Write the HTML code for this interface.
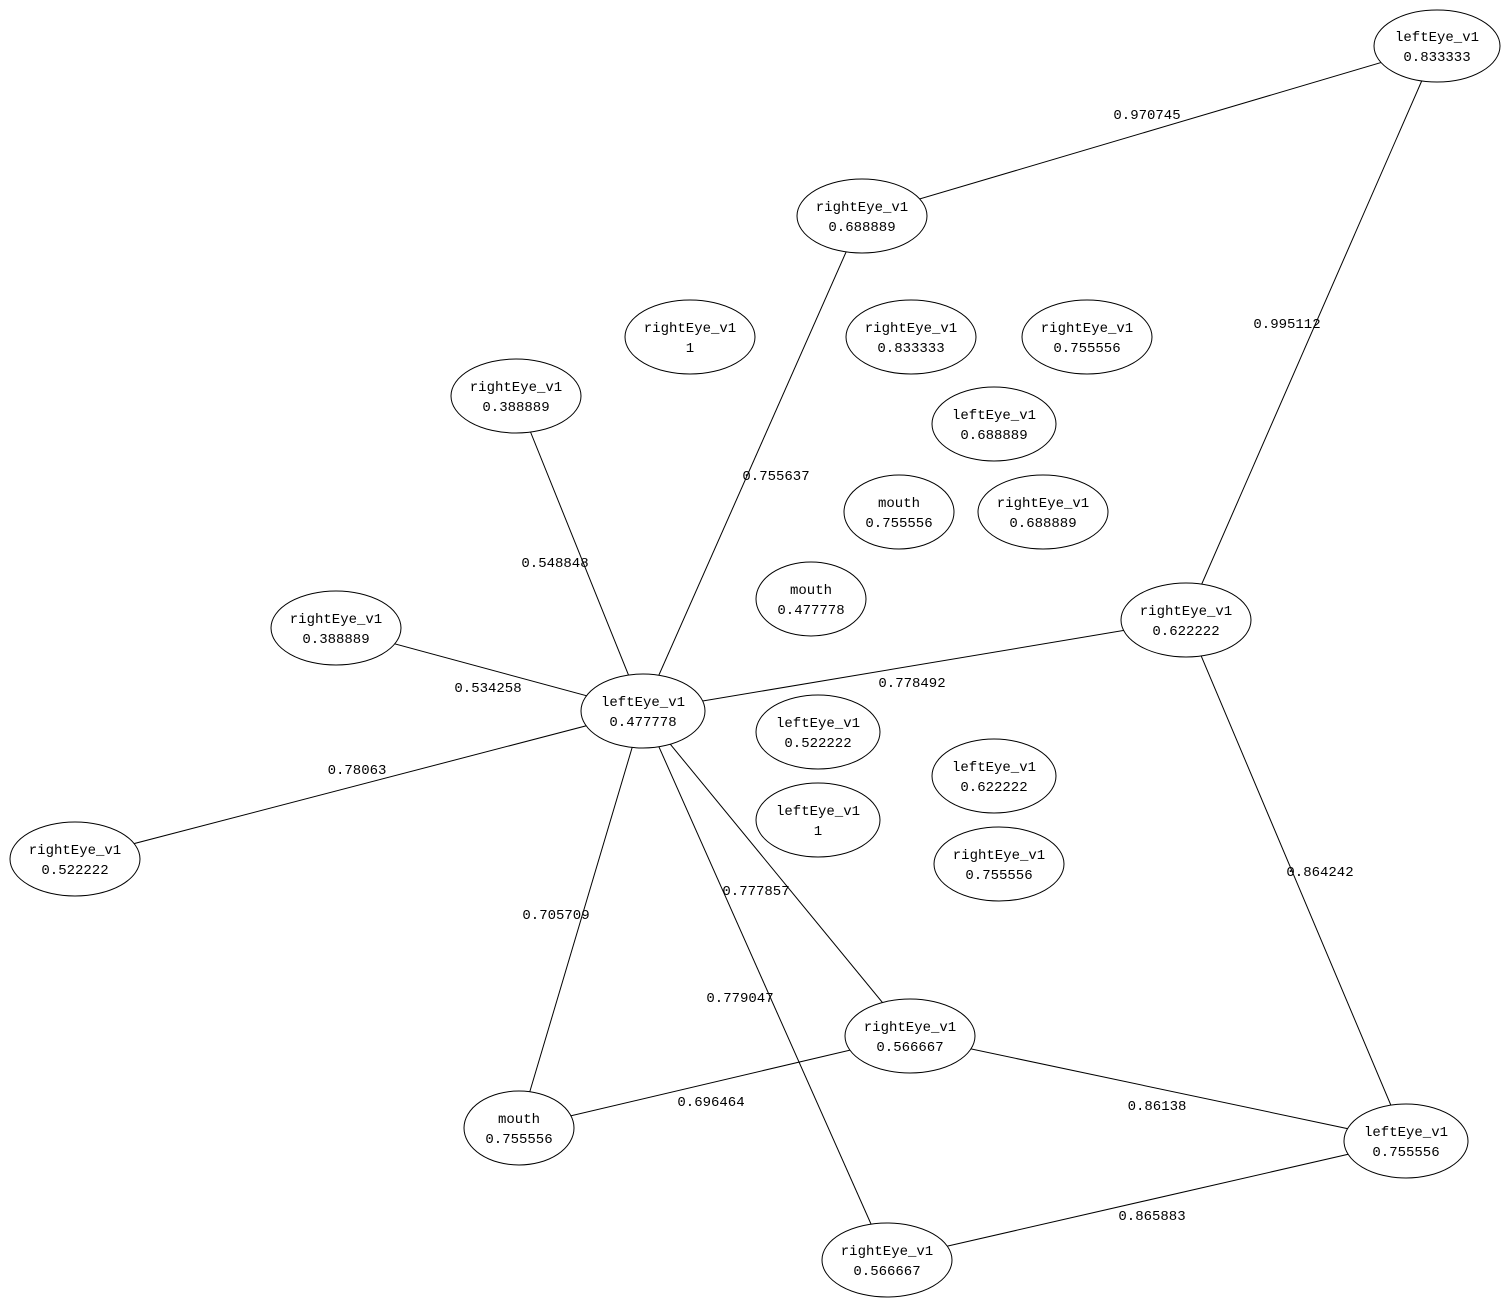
<!DOCTYPE html>
<html><head><meta charset="utf-8"><style>html,body{margin:0;padding:0;background:#fff}svg{display:block}text{font-family:"Liberation Mono","DejaVu Sans Mono",monospace;font-size:14px;fill:#000}</style></head><body>
<svg width="1507" height="1303" viewBox="0 0 1507 1303" xmlns="http://www.w3.org/2000/svg">
<g stroke="#000" stroke-width="1" fill="none">
<line x1="1437" y1="46" x2="862" y2="216"/>
<line x1="1437" y1="46" x2="1186" y2="620"/>
<line x1="862" y1="216" x2="643" y2="711"/>
<line x1="516" y1="396" x2="643" y2="711"/>
<line x1="336" y1="628" x2="643" y2="711"/>
<line x1="75" y1="859" x2="643" y2="711"/>
<line x1="1186" y1="620" x2="643" y2="711"/>
<line x1="1186" y1="620" x2="1406" y2="1141"/>
<line x1="643" y1="711" x2="519" y2="1128"/>
<line x1="643" y1="711" x2="910" y2="1036"/>
<line x1="643" y1="711" x2="887" y2="1260"/>
<line x1="519" y1="1128" x2="910" y2="1036"/>
<line x1="910" y1="1036" x2="1406" y2="1141"/>
<line x1="887" y1="1260" x2="1406" y2="1141"/>
</g>
<g fill="#fff" stroke="#000" stroke-width="1">
<ellipse cx="1437" cy="46" rx="63" ry="36"/>
<ellipse cx="862" cy="216" rx="65" ry="37"/>
<ellipse cx="690" cy="337" rx="65" ry="37"/>
<ellipse cx="911" cy="337" rx="65" ry="37"/>
<ellipse cx="1087" cy="337" rx="65" ry="37"/>
<ellipse cx="994" cy="424" rx="62" ry="37"/>
<ellipse cx="516" cy="396" rx="65" ry="37"/>
<ellipse cx="899" cy="512" rx="55" ry="37"/>
<ellipse cx="1043" cy="512" rx="65" ry="37"/>
<ellipse cx="811" cy="599" rx="55" ry="37"/>
<ellipse cx="336" cy="628" rx="65" ry="37"/>
<ellipse cx="1186" cy="620" rx="65" ry="37"/>
<ellipse cx="643" cy="711" rx="62" ry="37"/>
<ellipse cx="818" cy="732" rx="62" ry="37"/>
<ellipse cx="994" cy="776" rx="62" ry="37"/>
<ellipse cx="818" cy="820" rx="62" ry="37"/>
<ellipse cx="999" cy="864" rx="65" ry="37"/>
<ellipse cx="75" cy="859" rx="65" ry="37"/>
<ellipse cx="910" cy="1036" rx="65" ry="37"/>
<ellipse cx="519" cy="1128" rx="55" ry="37"/>
<ellipse cx="1406" cy="1141" rx="62" ry="37"/>
<ellipse cx="887" cy="1260" rx="65" ry="37"/>
</g>
<g text-anchor="middle">
<text x="1437" y="41">leftEye_v1</text><text x="1437" y="61">0.833333</text>
<text x="862" y="211">rightEye_v1</text><text x="862" y="231">0.688889</text>
<text x="690" y="332">rightEye_v1</text><text x="690" y="352">1</text>
<text x="911" y="332">rightEye_v1</text><text x="911" y="352">0.833333</text>
<text x="1087" y="332">rightEye_v1</text><text x="1087" y="352">0.755556</text>
<text x="994" y="419">leftEye_v1</text><text x="994" y="439">0.688889</text>
<text x="516" y="391">rightEye_v1</text><text x="516" y="411">0.388889</text>
<text x="899" y="507">mouth</text><text x="899" y="527">0.755556</text>
<text x="1043" y="507">rightEye_v1</text><text x="1043" y="527">0.688889</text>
<text x="811" y="594">mouth</text><text x="811" y="614">0.477778</text>
<text x="336" y="623">rightEye_v1</text><text x="336" y="643">0.388889</text>
<text x="1186" y="615">rightEye_v1</text><text x="1186" y="635">0.622222</text>
<text x="643" y="706">leftEye_v1</text><text x="643" y="726">0.477778</text>
<text x="818" y="727">leftEye_v1</text><text x="818" y="747">0.522222</text>
<text x="994" y="771">leftEye_v1</text><text x="994" y="791">0.622222</text>
<text x="818" y="815">leftEye_v1</text><text x="818" y="835">1</text>
<text x="999" y="859">rightEye_v1</text><text x="999" y="879">0.755556</text>
<text x="75" y="854">rightEye_v1</text><text x="75" y="874">0.522222</text>
<text x="910" y="1031">rightEye_v1</text><text x="910" y="1051">0.566667</text>
<text x="519" y="1123">mouth</text><text x="519" y="1143">0.755556</text>
<text x="1406" y="1136">leftEye_v1</text><text x="1406" y="1156">0.755556</text>
<text x="887" y="1255">rightEye_v1</text><text x="887" y="1275">0.566667</text>
<text x="1147" y="119">0.970745</text>
<text x="1287" y="328">0.995112</text>
<text x="776" y="480">0.755637</text>
<text x="555" y="567">0.548848</text>
<text x="488" y="692">0.534258</text>
<text x="912" y="687">0.778492</text>
<text x="357" y="774">0.78063</text>
<text x="1320" y="876">0.864242</text>
<text x="556" y="919">0.705709</text>
<text x="756" y="895">0.777857</text>
<text x="740" y="1002">0.779047</text>
<text x="711" y="1106">0.696464</text>
<text x="1157" y="1110">0.86138</text>
<text x="1152" y="1220">0.865883</text>
</g>
</svg>
</body></html>
